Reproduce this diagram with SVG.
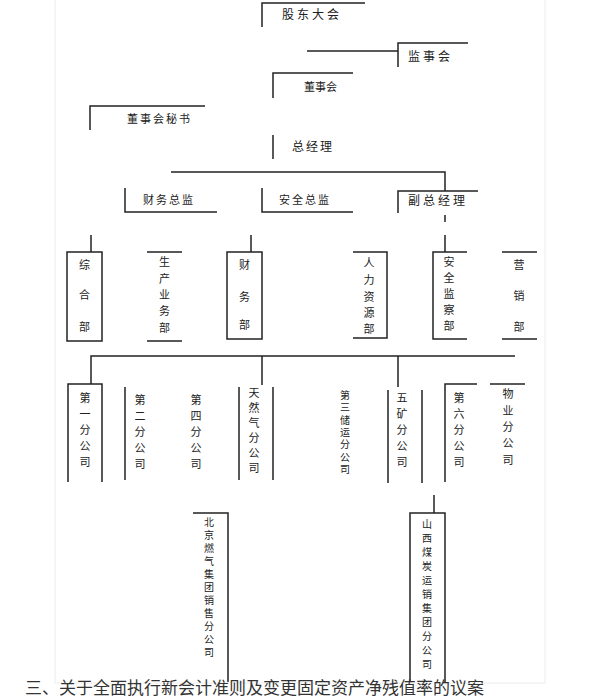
<svg xmlns="http://www.w3.org/2000/svg" width="611" height="700" viewBox="0 0 611 700">
<style>
.ln{fill:none;stroke:#222;stroke-width:1.5}
.t{font-family:"Noto Sans CJK SC","Noto Sans",sans-serif;font-size:11px;fill:#222}
.t12{font-family:"Noto Sans CJK SC","Noto Sans",sans-serif;font-size:12px;fill:#222}
.v{font-family:"Noto Sans CJK SC","Noto Sans",sans-serif;font-size:11px;fill:#222;text-anchor:middle}
.vt{font-family:"Noto Sans CJK SC","Noto Sans",sans-serif;font-size:10px;fill:#222;writing-mode:vertical-rl;text-anchor:start}
.cap{font-family:"Noto Sans CJK SC","Noto Sans",sans-serif;font-size:17px;fill:#333}
</style>
<rect x="0" y="0" width="611" height="700" fill="#fff"/>
<rect x="55" y="-1" width="490" height="684" fill="none" stroke="#ececec" stroke-width="1"/>

<g id="connectors">
<path class="ln" d="M307,51 H398"/>
<path class="ln" d="M171,172 H445 V191"/>
<path class="ln" d="M445,215 V222"/>
<path class="ln" d="M91,235 V252 M251,235 V252 M445,235 V252"/>
<path class="ln" d="M91,384 V356 H515 M262,356 V385 M398,356 V387"/>
<path class="ln" d="M434,495 V513"/>
</g>

<g id="n-gudong"><path class="ln" d="M262,27 V3 H365"/><text class="t12" x="282" y="19" letter-spacing="3">股东大会</text></g>
<g id="n-jianshi"><path class="ln" d="M398,67 V43 H468"/><text class="t12" x="408" y="61" letter-spacing="3">监事会</text></g>
<g id="n-dongshi"><path class="ln" d="M273,98 V73 H353"/><text class="t" x="304" y="91">董事会</text></g>
<g id="n-mishu"><path class="ln" d="M90,130 V106 H205"/><text class="t" x="127" y="123" letter-spacing="2">董事会秘书</text></g>
<g id="n-zjl"><path class="ln" d="M273,135 V159"/><text class="t12" x="292" y="151" letter-spacing="2">总经理</text></g>

<g id="n-dep1"><path class="ln" d="M125,188 V212 H217"/><text class="t" x="143" y="204" letter-spacing="2">财务总监</text></g>
<g id="n-dep2"><path class="ln" d="M262,188 V212 H353"/><text class="t" x="279" y="204" letter-spacing="2">安全总监</text></g>
<g id="n-dep3"><path class="ln" d="M398,213 V191 H478"/><text class="t12" x="408" y="205" letter-spacing="3">副总经理</text></g>

<g id="d-zonghe"><rect class="ln" x="67" y="252" width="35" height="89"/>
<text class="v"><tspan x="84.5" y="269">综</tspan><tspan x="84.5" y="299">合</tspan><tspan x="84.5" y="331">部</tspan></text></g>
<g id="d-shengchan"><path class="ln" d="M147,252 H182 M147,341 H182"/>
<text class="v"><tspan x="164.5" y="266">生</tspan><tspan x="164.5" y="283">产</tspan><tspan x="164.5" y="299">业</tspan><tspan x="164.5" y="315">务</tspan><tspan x="164.5" y="332">部</tspan></text></g>
<g id="d-caiwu"><rect class="ln" x="227" y="252" width="35" height="87"/>
<text class="v"><tspan x="244.5" y="269">财</tspan><tspan x="244.5" y="301">务</tspan><tspan x="244.5" y="329">部</tspan></text></g>
<g id="d-renli"><path class="ln" d="M353,252 H387 V338 H353"/>
<text class="v"><tspan x="369" y="267">人</tspan><tspan x="369" y="284">力</tspan><tspan x="369" y="301">资</tspan><tspan x="369" y="317">源</tspan><tspan x="369" y="333">部</tspan></text></g>
<g id="d-anquan"><path class="ln" d="M467,252 H433 V339 H467"/>
<text class="v"><tspan x="449" y="266">安</tspan><tspan x="449" y="282">全</tspan><tspan x="449" y="298">监</tspan><tspan x="449" y="314">察</tspan><tspan x="449" y="330">部</tspan></text></g>
<g id="d-yingxiao"><path class="ln" d="M502,252 H537 M502,339 H537"/>
<text class="v"><tspan x="519" y="269">营</tspan><tspan x="519" y="300">销</tspan><tspan x="519" y="331">部</tspan></text></g>

<g id="s-1"><path class="ln" d="M68,482 V384 H102 V482"/>
<text class="v"><tspan x="85" y="402">第</tspan><tspan x="85" y="418">一</tspan><tspan x="85" y="434">分</tspan><tspan x="85" y="450">公</tspan><tspan x="85" y="466">司</tspan></text></g>
<g id="s-2"><path class="ln" d="M125,387 V480"/>
<text class="v"><tspan x="140" y="404">第</tspan><tspan x="140" y="420">二</tspan><tspan x="140" y="436">分</tspan><tspan x="140" y="452">公</tspan><tspan x="140" y="468">司</tspan></text></g>
<g id="s-4">
<text class="v"><tspan x="196" y="404">第</tspan><tspan x="196" y="420">四</tspan><tspan x="196" y="436">分</tspan><tspan x="196" y="452">公</tspan><tspan x="196" y="468">司</tspan></text></g>
<g id="s-tianranqi"><path class="ln" d="M239,387 V480 M273,387 V480"/>
<text class="v"><tspan x="254" y="397">天</tspan><tspan x="254" y="412">然</tspan><tspan x="254" y="427">气</tspan><tspan x="254" y="442">分</tspan><tspan x="254" y="457">公</tspan><tspan x="254" y="472">司</tspan></text></g>
<g id="s-3">
<text class="vt" x="345" y="390" letter-spacing="2.4">第三储运分公司</text></g>
<g id="s-5"><path class="ln" d="M388,390 V483 M422,390 V483"/>
<text class="v"><tspan x="402" y="402">五</tspan><tspan x="402" y="418">矿</tspan><tspan x="402" y="434">分</tspan><tspan x="402" y="450">公</tspan><tspan x="402" y="466">司</tspan></text></g>
<g id="s-6"><path class="ln" d="M477,384 H445 V482"/>
<text class="v"><tspan x="459" y="402">第</tspan><tspan x="459" y="418">六</tspan><tspan x="459" y="434">分</tspan><tspan x="459" y="450">公</tspan><tspan x="459" y="466">司</tspan></text></g>
<g id="s-wuye"><path class="ln" d="M490,384 H525"/>
<text class="v"><tspan x="508" y="398">物</tspan><tspan x="508" y="415">业</tspan><tspan x="508" y="431">分</tspan><tspan x="508" y="447">公</tspan><tspan x="508" y="464">司</tspan></text></g>

<g id="b-left"><path class="ln" d="M193,513 H228 V682"/>
<text class="vt" x="209" y="517" letter-spacing="3">北京燃气集团销售分公司</text></g>
<g id="b-right"><path class="ln" d="M410,682 V513 H445 V682"/>
<text class="vt" x="427" y="519" letter-spacing="4">山西煤炭运销集团分公司</text></g>

<text class="cap" x="25" y="694">三、关于全面执行新会计准则及变更固定资产净残值率的议案</text>
</svg>
